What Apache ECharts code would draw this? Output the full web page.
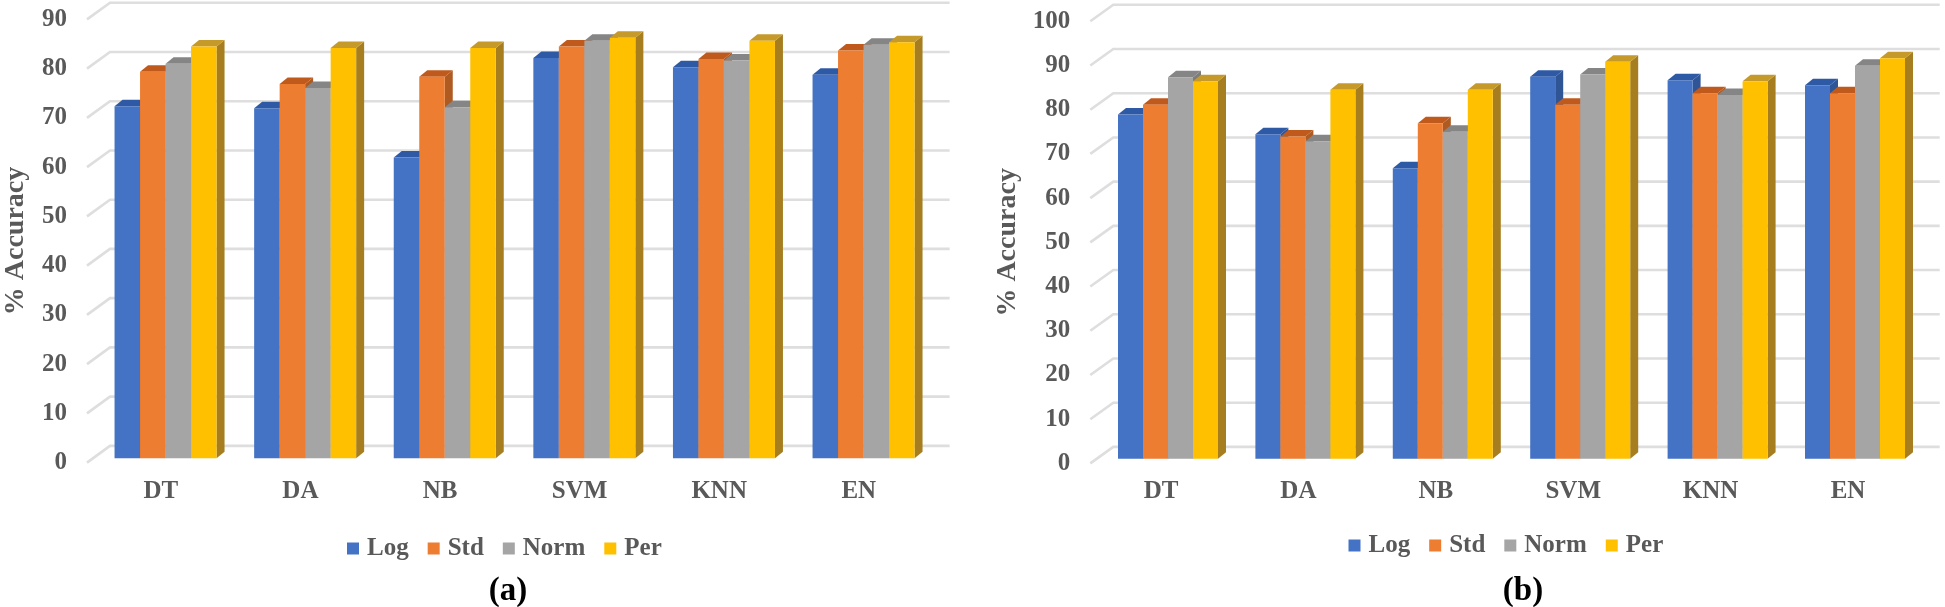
<!DOCTYPE html>
<html>
<head>
<meta charset="utf-8">
<style>html,body{margin:0;padding:0;background:#fff}#c{width:1945px;height:607px}</style>
<script src="https://cdn.jsdelivr.net/npm/echarts@6/dist/echarts.min.js"></script>
</head>
<body>
<div id="c"></div>
<script>
const categories = ['DT', 'DA', 'NB', 'SVM', 'KNN', 'EN'];
const seriesNames = ['Log', 'Std', 'Norm', 'Per'];

const aLog  = [71.5, 71.1, 61.1, 81.3, 79.4, 77.9];
const aStd  = [78.5, 76.0, 77.5, 83.6, 81.1, 82.8];
const aNorm = [80.1, 75.2, 71.3, 84.8, 80.8, 84.0];
const aPer  = [83.6, 83.3, 83.3, 85.4, 84.8, 84.5];

const bLog  = [77.9, 73.4, 65.7, 86.4, 85.6, 84.5];
const bStd  = [80.1, 72.9, 75.9, 80.1, 82.7, 82.7];
const bNorm = [86.3, 71.8, 74.0, 86.9, 82.3, 88.9];
const bPer  = [85.4, 83.5, 83.5, 89.8, 85.4, 90.6];

const aTicks = [0, 10, 20, 30, 40, 50, 60, 70, 80, 90];
const bTicks = [0, 10, 20, 30, 40, 50, 60, 70, 80, 90, 100];

const frontColors = ['#4472C4', '#ED7D31', '#A5A5A5', '#FFC000'];
const topColors   = ['#2E5AA5', '#C05A1C', '#858585', '#C59A2B'];
const sideColors  = ['#2F5597', '#AE5A21', '#7C7C7C', '#A67E20'];

const textColor = '#595959';
const serif = '"Liberation Serif", serif';

function wallSeries(gridIndex, ticks, cfg) {
  return {
    type: 'custom', name: 'wall', xAxisIndex: gridIndex, yAxisIndex: gridIndex, silent: true, z: 1, clip: false,
    data: ticks.map(t => [0, t]),
    renderItem(params, api) {
      const y = api.coord([0, api.value(1)])[1];
      const cs = params.coordSys;
      return {
        type: 'polyline',
        shape: { points: [
          [cs.x + cfg.diagX, y],
          [cs.x + cfg.diagX + 23, y - cfg.wallDy],
          [cs.x + cs.width + cfg.wallEnd, y - cfg.wallDy]
        ] },
        style: { stroke: '#DEDEDE', lineWidth: 2.6, fill: null }
      };
    }
  };
}

function barSeries(gridIndex, idx, values, cfg) {
  return {
    type: 'custom', name: seriesNames[idx], xAxisIndex: gridIndex, yAxisIndex: gridIndex, z: 2 + idx, clip: false,
    itemStyle: { color: frontColors[idx] },
    data: values.map((v, i) => [i, v]),
    renderItem(params, api) {
      const top = api.coord([api.value(0), api.value(1)]);
      const base = api.coord([api.value(0), 0]);
      const x0 = top[0] + cfg.planeDx + (idx - 2) * cfg.barW;
      const x1 = x0 + cfg.barW;
      const yt = top[1] - cfg.planeDy, yb = base[1] - cfg.planeDy;
      const dx = 8, dy = 6.5;
      const children = [
        { type: 'polygon', shape: { points: [[x1, yt], [x1 + dx, yt - dy], [x1 + dx, yb - dy], [x1, yb]] }, style: { fill: sideColors[idx] } },
        { type: 'polygon', shape: { points: [[x0, yt], [x0 + dx, yt - dy], [x1 + dx, yt - dy], [x1, yt]] }, style: { fill: topColors[idx] } },
        { type: 'rect', shape: { x: x0, y: yt, width: cfg.barW, height: yb - yt }, style: { fill: frontColors[idx] } }
      ];
      return { type: 'group', children };
    }
  };
}

const cfgA = { diagX: -4, wallDy: 16.7, wallEnd: 21, planeDx: 4.75, planeDy: 4.3, barW: 25.5 };
const cfgB = { diagX: -2, wallDy: 16.5, wallEnd: 23, planeDx: 7, planeDy: 4.6, barW: 25 };

function xAxis(gridIndex) {
  return {
    type: 'category', gridIndex, data: categories,
    axisLine: { show: false }, axisTick: { show: false }, splitLine: { show: false },
    axisLabel: { margin: 16, fontFamily: serif, fontWeight: 'bold', fontSize: 25, color: textColor }
  };
}
function yAxis(gridIndex, max, margin, nameGap) {
  return {
    type: 'value', gridIndex, min: 0, max, interval: 10,
    name: '% Accuracy', nameLocation: 'middle', nameGap, nameRotate: 90,
    nameTextStyle: { fontFamily: serif, fontWeight: 'bold', fontSize: 28, color: textColor },
    axisLine: { show: false }, axisTick: { show: false }, splitLine: { show: false },
    axisLabel: { margin, fontFamily: serif, fontWeight: 'bold', fontSize: 25, color: textColor }
  };
}
function legend(left, top) {
  return {
    data: seriesNames, left, top, icon: 'rect', itemWidth: 12, itemHeight: 12, itemGap: 19, selectedMode: false,
    textStyle: { fontFamily: serif, fontWeight: 'bold', fontSize: 25, color: textColor, padding: [0, 0, 0, 3] }
  };
}
function caption(text, left) {
  return { text, left, top: 570, textAlign: 'center', textStyle: { fontFamily: serif, fontWeight: 'bold', fontSize: 33, color: '#000' } };
}

const chart = echarts.init(document.getElementById('c'), null, { renderer: 'canvas' });
chart.setOption({
  animation: false,
  backgroundColor: '#fff',
  title: [caption('(a)', 503), caption('(b)', 1518)],
  legend: [legend(342, 531), legend(1343.5, 528)],
  grid: [
    { left: 91, top: 19.4, width: 837.6, height: 443.2, outerBoundsMode: 'none' },
    { left: 1092.3, top: 21.3, width: 824.4, height: 442.1, outerBoundsMode: 'none' }
  ],
  xAxis: [xAxis(0), xAxis(1)],
  yAxis: [yAxis(0, 90, 24, 61), yAxis(1, 100, 22, 71)],
  series: [
    wallSeries(0, aTicks, cfgA),
    barSeries(0, 0, aLog, cfgA), barSeries(0, 1, aStd, cfgA), barSeries(0, 2, aNorm, cfgA), barSeries(0, 3, aPer, cfgA),
    wallSeries(1, bTicks, cfgB),
    barSeries(1, 0, bLog, cfgB), barSeries(1, 1, bStd, cfgB), barSeries(1, 2, bNorm, cfgB), barSeries(1, 3, bPer, cfgB)
  ]
});
</script>
</body>
</html>
